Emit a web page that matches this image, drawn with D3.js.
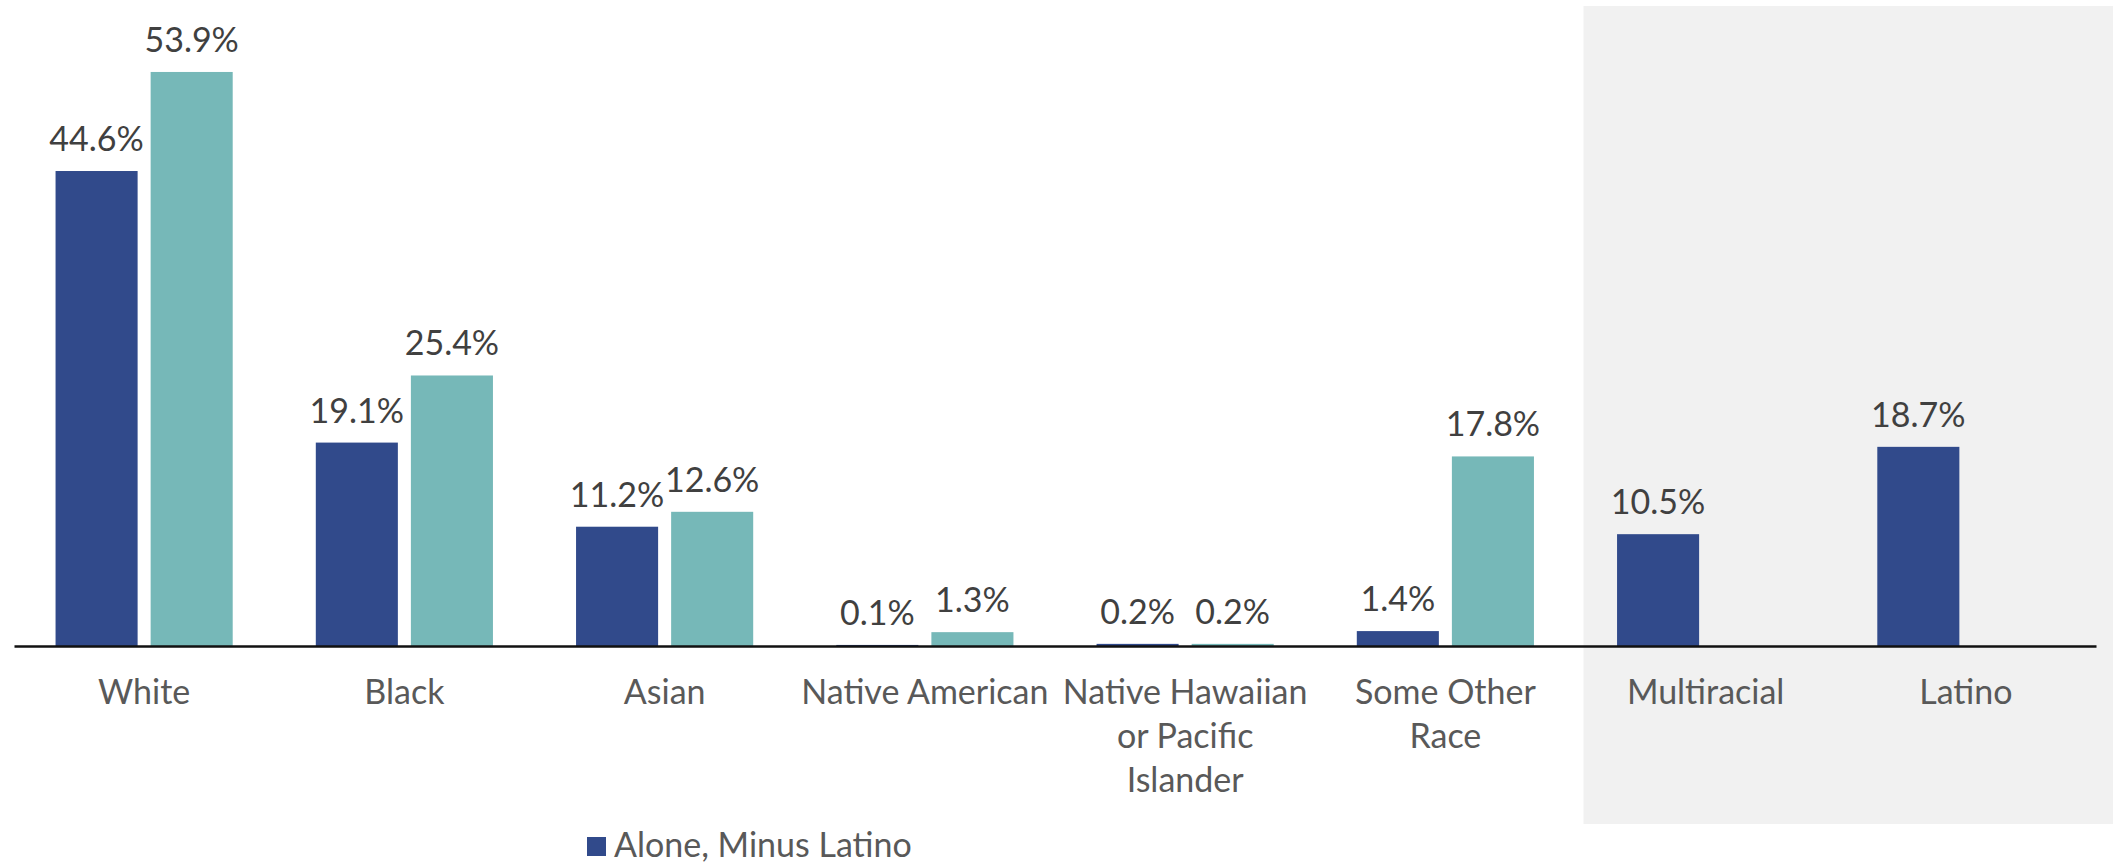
<!DOCTYPE html>
<html>
<head>
<meta charset="utf-8">
<script src="https://cdn.jsdelivr.net/npm/d3@7"></script>
<style>
  body { margin: 0; background: #fff; }
  text { font-family: Lato, "Open Sans", sans-serif; }
</style>
</head>
<body>
<div id="container"></div>
<script>

var categories = ['White', 'Black', 'Asian', 'Native American',
    'Native Hawaiian or Pacific Islander', 'Some Other Race', 'Multiracial', 'Latino'];

// wrapped tick labels, one array of lines per category
var tickLines = [
    ['White'], ['Black'], ['Asian'], ['Native American'],
    ['Native Hawaiian', 'or Pacific', 'Islander'], ['Some Other', 'Race'],
    ['Multiracial'], ['Latino']
];

var aloneMinusLatino = [44.6, 19.1, 11.2, 0.1, 0.2, 1.4, 10.5, 18.7];
var aloneOrCombo = [53.9, 25.4, 12.6, 1.3, 0.2, 17.8, null, null];

var seriesNames = ['Alone, Minus Latino', 'Alone or in Combination'];
var seriesColors = ['#314a8b', '#76b8b8'];
var legendItems = ['Alone, Minus Latino'];

// categories sitting on the grey panel
var shadedCategories = ['Multiracial', 'Latino'];

function drawChart() {
    var width = 2113, height = 863;

    var svg = d3.select('#container').append('svg:svg')
        .attr('width', width)
        .attr('height', height);

    var x = d3.scaleBand()
        .domain(categories)
        .range([14, 2096]);

    var xSub = d3.scaleBand()
        .domain(seriesNames)
        .range([0, x.bandwidth()])
        .paddingInner(0.137)
        .paddingOuter(0.437);

    var y = d3.scaleLinear()
        .domain([0, 60])
        .range([646, 7]);

    // grey panel behind the last two groups
    svg.append('rect')
        .attr('x', x(shadedCategories[0]) + 8)
        .attr('y', 6)
        .attr('width', width - x(shadedCategories[0]) - 8)
        .attr('height', 818)
        .attr('fill', '#f1f1f1');

    var rows = [];
    categories.forEach(function(c, i) {
        rows.push({cat: c, series: seriesNames[0], value: aloneMinusLatino[i]});
        rows.push({cat: c, series: seriesNames[1], value: aloneOrCombo[i]});
    });
    rows = rows.filter(function(d) { return d.value !== null; });

    var color = d3.scaleOrdinal().domain(seriesNames).range(seriesColors);

    svg.append('g').selectAll('rect')
        .data(rows)
        .enter().append('rect')
        .attr('x', function(d) { return x(d.cat) + xSub(d.series); })
        .attr('width', xSub.bandwidth())
        .attr('y', function(d) { return y(d.value); })
        .attr('height', function(d) { return Math.max(y(0) - y(d.value), 1); })
        .attr('fill', function(d) { return color(d.series); });

    svg.append('g').selectAll('text')
        .data(rows)
        .enter().append('text')
        .attr('x', function(d) { return x(d.cat) + xSub(d.series) + xSub.bandwidth() / 2; })
        .attr('y', function(d) { return y(d.value) - 20; })
        .attr('text-anchor', 'middle')
        .attr('font-size', 34)
        .attr('fill', '#404040')
        .text(function(d) { return d.value.toFixed(1) + '%'; });

    var axis = svg.append('g')
        .attr('transform', 'translate(0,' + y(0) + ')')
        .call(d3.axisBottom(x).tickSize(0).tickSizeOuter(0));

    axis.select('.domain')
        .attr('stroke', '#111')
        .attr('stroke-width', 2.5);

    axis.selectAll('.tick text').each(function(d, i) {
        var t = d3.select(this);
        t.text(null)
            .attr('y', 0)
            .attr('dy', null)
            .attr('font-size', 34)
            .attr('font-family', 'Lato, sans-serif')
            .attr('fill', '#595959');
        tickLines[i].forEach(function(line, j) {
            t.append('tspan')
                .attr('x', 0)
                .attr('y', 58 + j * 44)
                .text(line);
        });
    });

    var legend = svg.append('g').selectAll('g')
        .data(legendItems)
        .enter().append('g')
        .attr('transform', 'translate(587,837)');

    legend.append('rect')
        .attr('width', 19)
        .attr('height', 19)
        .attr('fill', function(d) { return color(d); });

    legend.append('text')
        .attr('x', 27)
        .attr('y', 20)
        .attr('font-size', 34)
        .attr('fill', '#595959')
        .text(function(d) { return d; });
}

drawChart();
</script>
</body>
</html>
